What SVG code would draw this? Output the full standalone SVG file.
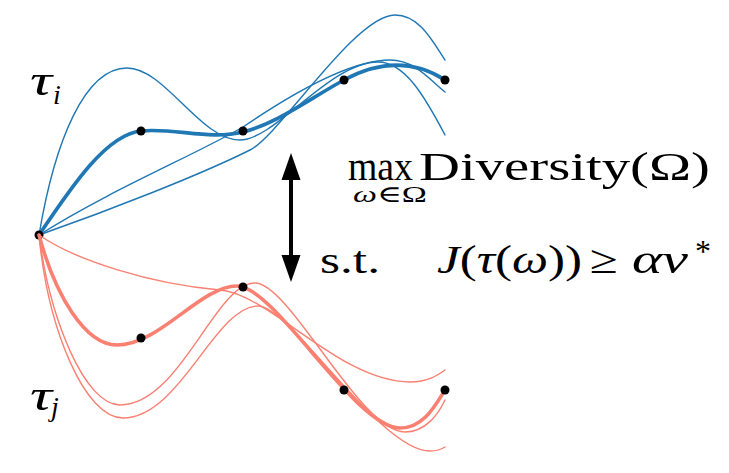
<svg xmlns="http://www.w3.org/2000/svg" width="729" height="473" viewBox="0 0 729 473">
<style>
.b{fill:none;stroke:#1f77b4;stroke-width:1.4;stroke-linecap:round}
.bt{fill:none;stroke:#1f77b4;stroke-width:3.6;stroke-linecap:round}
.r{fill:none;stroke:#fa8072;stroke-width:1.4;stroke-linecap:round}
.rt{fill:none;stroke:#fa8072;stroke-width:3.6;stroke-linecap:round}
.dot{fill:#000}
.t{font-family:"Liberation Serif","DejaVu Serif",serif;fill:#000}
.it{font-style:italic}
</style>
<rect width="729" height="473" fill="#fff"/>
<g id="blue-trajectories">
<path class="b" d="M39,235 C55,140 85,68 127,68 C165,68 200,140 240,140 C275,140 330,62 378,62 C405,62 425,97 445,135"/>
<path class="b" d="M39,235 C110,190 195,155 243,127 C290,95 350,60 390,60 C415,60 430,80 445,92"/>
<path class="b" d="M39,235 C110,210 200,175 250,150 C280,135 355,15 395,15 C420,15 433,42 445,60"/>
<path class="bt" d="M39,235 C73,184.3 107,134.3 141,131 C175,127.7 209,140.3 243,132 C276.7,123.7 310.3,98.3 344,80 C377.7,61.7 411.3,58.3 445,80"/>
</g>
<circle class="dot" cx="39" cy="235" r="4.5"/>
<g id="red-trajectories">
<path class="r" d="M39,235 C75,260 150,284 220,290 C270,294 340,382 410,382 C428,382 438,375 445,370"/>
<path class="r" d="M39,235 C50,320 85,405 120,405 C180,405 215,283 255,283 C290,283 360,432 405,432 C425,432 438,415 445,400"/>
<path class="r" d="M39,235 C48,330 85,418 123,418 C180,418 215,306 258,306 C290,306 380,451 430,451 C437,451 442,449 445,447"/>
<path class="rt" d="M39,235 C55,295 85,345 117,345 C160,345 200,286 237,286 C275,286 355,428 400,428 C425,428 437,402 445,390"/>
</g>
<g id="waypoints">
<circle class="dot" cx="141" cy="131" r="4.5"/>
<circle class="dot" cx="243" cy="131" r="4.5"/>
<circle class="dot" cx="344" cy="80" r="4.5"/>
<circle class="dot" cx="445" cy="80" r="4.5"/>
<circle class="dot" cx="141" cy="338" r="4.5"/>
<circle class="dot" cx="243" cy="287" r="4.5"/>
<circle class="dot" cx="344" cy="390" r="4.5"/>
<circle class="dot" cx="445" cy="390" r="4.5"/>
</g>
<g id="arrow">
<line x1="291" y1="176" x2="291" y2="259" stroke="#000" stroke-width="4"/>
<polygon points="291,153 281.5,180 300.5,180" fill="#000"/>
<polygon points="291,282 281.5,255 300.5,255" fill="#000"/>
</g>
<g id="labels">
<text class="t it" x="30" y="95" font-size="44" textLength="22" lengthAdjust="spacingAndGlyphs">τ</text>
<text class="t it" x="53" y="104" font-size="28">i</text>
<text class="t it" x="30" y="410" font-size="44" textLength="22" lengthAdjust="spacingAndGlyphs">τ</text>
<text class="t it" x="51" y="416" font-size="28">j</text>
</g>
<g id="formula">
<text class="t" x="348" y="180" font-size="40" textLength="65" lengthAdjust="spacingAndGlyphs">max</text>
<text class="t" x="419" y="180" font-size="41" textLength="291" lengthAdjust="spacingAndGlyphs">Diversity(Ω)</text>
<text class="t" x="353" y="202" font-size="23" textLength="74" lengthAdjust="spacingAndGlyphs"><tspan class="it">ω</tspan>∈Ω</text>
<text class="t" x="320" y="273" font-size="38" textLength="60" lengthAdjust="spacingAndGlyphs">s.t.</text>
<text class="t" x="437" y="273" font-size="40" textLength="145" lengthAdjust="spacingAndGlyphs"><tspan class="it">J</tspan>(<tspan class="it">τ</tspan>(<tspan class="it">ω</tspan>))</text>
<text class="t" x="590" y="273" font-size="40" textLength="28" lengthAdjust="spacingAndGlyphs">≥</text>
<text class="t it" x="632" y="273" font-size="40" textLength="56" lengthAdjust="spacingAndGlyphs">αv</text>
<text class="t" x="695" y="262" font-size="32">*</text>
</g>
</svg>
